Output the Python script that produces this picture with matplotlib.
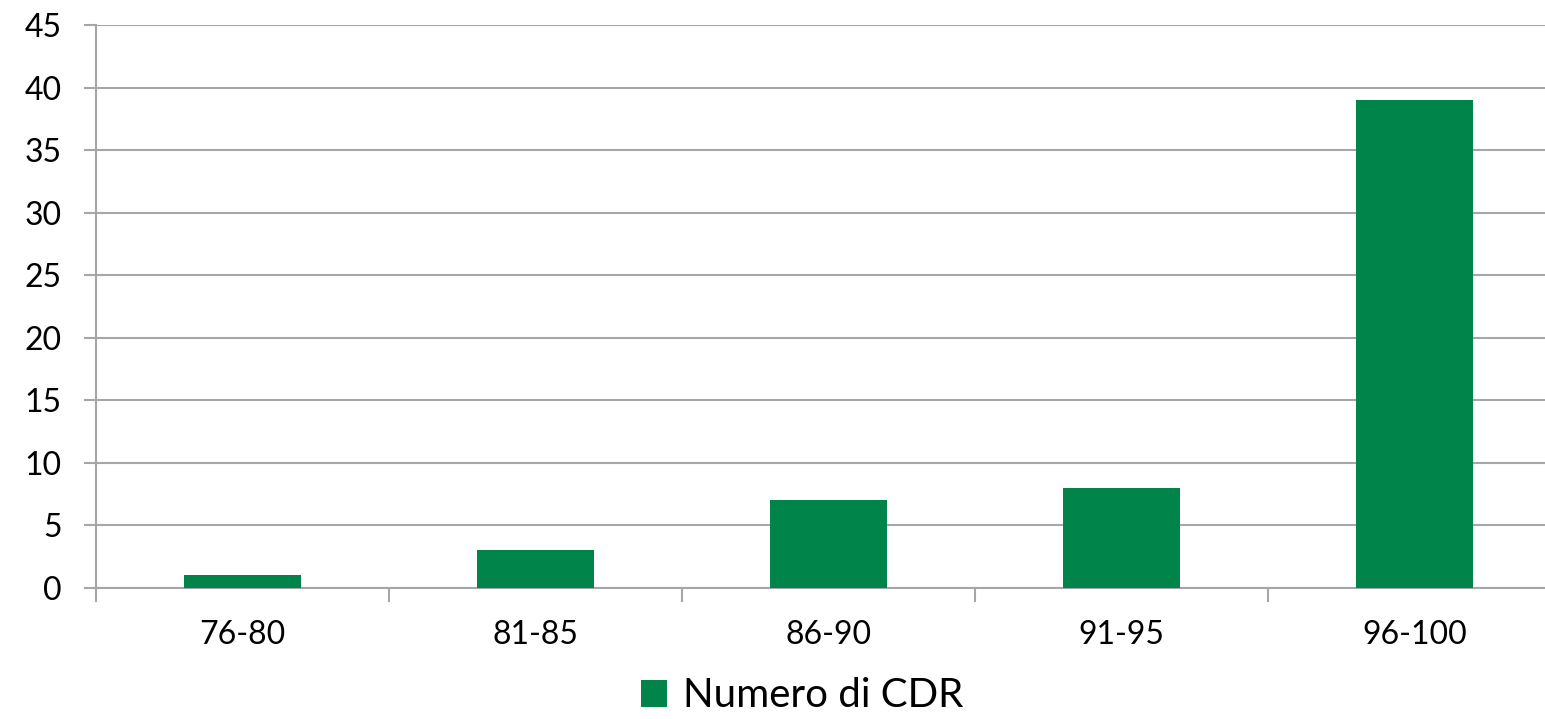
"""Bar chart: Numero di CDR per fascia."""

import matplotlib

matplotlib.use("Agg")
import matplotlib.pyplot as plt
import numpy as np
from matplotlib.patches import Patch

CATEGORIES = ["76-80", "81-85", "86-90", "91-95", "96-100"]
COUNTS = [1, 3, 7, 8, 39]
SERIES_LABEL = "Numero di CDR"
Y_TICKS = list(range(0, 50, 5))

GREEN = "#00844A"
GRID = "#A6A6A6"

plt.rcParams["font.family"] = ["Lato", "DejaVu Sans"]

fig = plt.figure(figsize=(15.45, 7.19), dpi=100)
ax = fig.add_axes([0.0621, 0.1822, 0.9483, 0.783])

x = np.arange(len(CATEGORIES))
ax.bar(x, COUNTS, width=0.4, color=GREEN, zorder=3)

ax.set_xlim(-0.5, len(CATEGORIES) - 0.5)
ax.set_ylim(0, 45)
ax.set_yticks(Y_TICKS)
ax.yaxis.grid(True, color=GRID, linewidth=1.5, zorder=0)

# category labels centered, tick marks on the boundaries
ax.set_xticks(x)
ax.set_xticklabels(CATEGORIES, fontsize=23)
ax.tick_params(axis="x", length=0, pad=23)
ax.set_xticks(np.arange(len(CATEGORIES) + 1) - 0.5, minor=True)
ax.tick_params(axis="x", which="minor", length=10, width=1.5, color=GRID, direction="out")
ax.tick_params(axis="y", length=8.5, width=1.5, color=GRID, labelsize=23, pad=16)

for side in ("top", "right"):
    ax.spines[side].set_visible(False)
for side in ("left", "bottom"):
    ax.spines[side].set_color(GRID)
    ax.spines[side].set_linewidth(1.5)

handle = Patch(facecolor=GREEN, edgecolor="none")
fig.legend(
    [handle],
    [SERIES_LABEL],
    loc="center",
    bbox_to_anchor=(0.519, 0.032),
    frameon=False,
    fontsize=29,
    handlelength=0.65,
    handleheight=0.65,
    handletextpad=0.4,
    borderpad=0.1,
)

fig.savefig("out.png", dpi=100)
